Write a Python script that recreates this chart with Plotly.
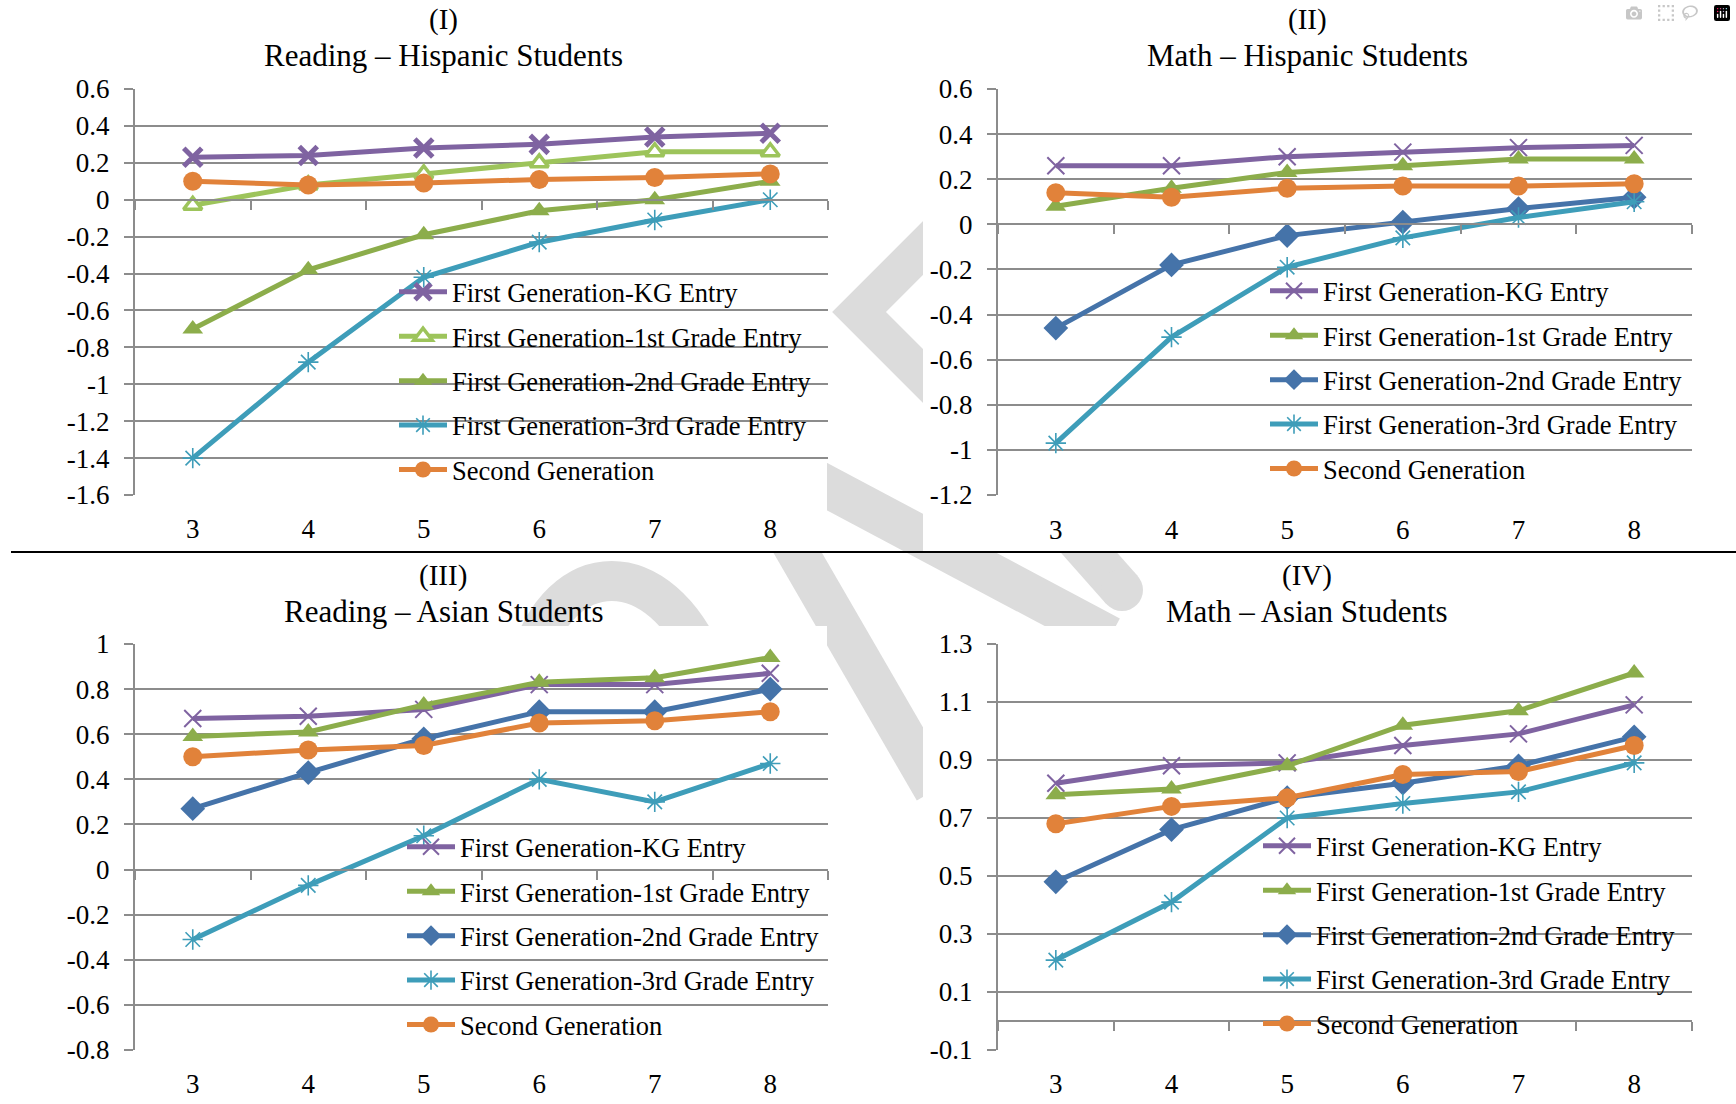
import plotly.graph_objects as go

# ---------------- data ----------------
grades = [3, 4, 5, 6, 7, 8]
grade_labels = ["3", "4", "5", "6", "7", "8"]
series_names = [
    "First Generation-KG Entry",
    "First Generation-1st Grade Entry",
    "First Generation-2nd Grade Entry",
    "First Generation-3rd Grade Entry",
    "Second Generation",
]

# (I) Reading - Hispanic
r_hisp_kg = [0.23, 0.24, 0.28, 0.30, 0.34, 0.36]
r_hisp_g1 = [-0.03, 0.08, 0.14, 0.20, 0.26, 0.26]
r_hisp_g2 = [-0.70, -0.38, -0.19, -0.06, 0.00, 0.10]
r_hisp_g3 = [-1.40, -0.88, -0.42, -0.23, -0.11, 0.00]
r_hisp_sg = [0.10, 0.08, 0.09, 0.11, 0.12, 0.14]

# (II) Math - Hispanic
m_hisp_kg = [0.26, 0.26, 0.30, 0.32, 0.34, 0.35]
m_hisp_g1 = [0.08, 0.16, 0.23, 0.26, 0.29, 0.29]
m_hisp_g2 = [-0.46, -0.18, -0.05, 0.01, 0.07, 0.12]
m_hisp_g3 = [-0.97, -0.50, -0.19, -0.06, 0.03, 0.10]
m_hisp_sg = [0.14, 0.12, 0.16, 0.17, 0.17, 0.18]

# (III) Reading - Asian
r_asian_kg = [0.67, 0.68, 0.71, 0.82, 0.82, 0.87]
r_asian_g1 = [0.59, 0.61, 0.73, 0.83, 0.85, 0.94]
r_asian_g2 = [0.27, 0.43, 0.58, 0.70, 0.70, 0.80]
r_asian_g3 = [-0.31, -0.07, 0.15, 0.40, 0.30, 0.47]
r_asian_sg = [0.50, 0.53, 0.55, 0.65, 0.66, 0.70]

# (IV) Math - Asian
m_asian_kg = [0.82, 0.88, 0.89, 0.95, 0.99, 1.09]
m_asian_g1 = [0.78, 0.80, 0.88, 1.02, 1.07, 1.20]
m_asian_g2 = [0.48, 0.66, 0.77, 0.82, 0.88, 0.98]
m_asian_g3 = [0.21, 0.41, 0.70, 0.75, 0.79, 0.89]
m_asian_sg = [0.68, 0.74, 0.77, 0.85, 0.86, 0.95]

# y tick labels
yticks_1 = ["-1.6", "-1.4", "-1.2", "-1", "-0.8", "-0.6", "-0.4", "-0.2", "0", "0.2", "0.4", "0.6"]
yticks_2 = ["-1.2", "-1", "-0.8", "-0.6", "-0.4", "-0.2", "0", "0.2", "0.4", "0.6"]
yticks_3 = ["-0.8", "-0.6", "-0.4", "-0.2", "0", "0.2", "0.4", "0.6", "0.8", "1"]
yticks_4 = ["-0.1", "0.1", "0.3", "0.5", "0.7", "0.9", "1.1", "1.3"]

panel_numbers = ["(I)", "(II)", "(III)", "(IV)"]
panel_titles = [
    "Reading \u2013 Hispanic Students",
    "Math \u2013 Hispanic Students",
    "Reading \u2013 Asian Students",
    "Math \u2013 Asian Students",
]

# ---------------- styling ----------------
W, H = 1736, 1104
FONT = "Liberation Serif"
GRID = "#8c8c8c"
PURPLE = "#7F63A1"
GREEN_LIGHT = "#9DC45B"
GREEN = "#8CAD4B"
BLUE = "#4573A9"
TEAL = "#3E9DB9"
ORANGE = "#E1823A"
WM = "#dcdcdc"


def px(x):
    return x / W


def py(y):
    return 1 - y / H


st_kg_bold = dict(color=PURPLE, symbol="x-thin", size=18, mfill=PURPLE, mline=PURPLE, mlw=5)
st_kg = dict(color=PURPLE, symbol="x-thin", size=17, mfill=PURPLE, mline=PURPLE, mlw=2)
st_g1_open = dict(color=GREEN_LIGHT, symbol="triangle-up", size=16, mfill="white", mline=GREEN_LIGHT, mlw=3.5)
st_g1 = dict(color=GREEN, symbol="triangle-up", size=18, mfill=GREEN, mline=GREEN, mlw=0)
st_g2_tri = dict(color=GREEN, symbol="triangle-up", size=18, mfill=GREEN, mline=GREEN, mlw=0)
st_g2 = dict(color=BLUE, symbol="diamond", size=19, mfill=BLUE, mline=BLUE, mlw=0)
st_g3 = dict(color=TEAL, symbol="asterisk-open", size=17, mfill=TEAL, mline=TEAL, mlw=1.6)
st_sg = dict(color=ORANGE, symbol="circle", size=19, mfill=ORANGE, mline=ORANGE, mlw=0)

panels = [
    dict(series=[r_hisp_kg, r_hisp_g1, r_hisp_g2, r_hisp_g3, r_hisp_sg],
         styles=[st_kg_bold, st_g1_open, st_g2_tri, st_g3, st_sg],
         yticks=yticks_1, xpx=(135, 828), ypx=(89, 495),
         legend_text=(452, 294), title_x=443, title_y=(20, 55)),
    dict(series=[m_hisp_kg, m_hisp_g1, m_hisp_g2, m_hisp_g3, m_hisp_sg],
         styles=[st_kg, st_g1, st_g2, st_g3, st_sg],
         yticks=yticks_2, xpx=(998, 1692), ypx=(89, 495),
         legend_text=(1323, 293), title_x=1307, title_y=(20, 55)),
    dict(series=[r_asian_kg, r_asian_g1, r_asian_g2, r_asian_g3, r_asian_sg],
         styles=[st_kg, st_g1, st_g2, st_g3, st_sg],
         yticks=yticks_3, xpx=(135, 828), ypx=(644, 1050),
         legend_text=(460, 849), title_x=443, title_y=(575, 611)),
    dict(series=[m_asian_kg, m_asian_g1, m_asian_g2, m_asian_g3, m_asian_sg],
         styles=[st_kg, st_g1, st_g2, st_g3, st_sg],
         yticks=yticks_4, xpx=(998, 1692), ypx=(644, 1050),
         legend_text=(1316, 848), title_x=1307, title_y=(575, 611)),
]

fig = go.Figure()
layout = dict(
    width=W, height=H, margin=dict(l=0, r=0, t=0, b=0, pad=0, autoexpand=False),
    paper_bgcolor="white", plot_bgcolor="rgba(0,0,0,0)",
    font=dict(family=FONT, color="black"),
    showlegend=True,
    annotations=[], shapes=[],
)

ITEMW = 48
LABEL_GAP = 19  # px between plot bottom and x tick labels
cat_range = [-0.5, len(grade_labels) - 0.5]

for i, p in enumerate(panels):
    n = i + 1
    xa = "x" if n == 1 else f"x{n}"
    ya = "y" if n == 1 else f"y{n}"
    leg = "legend" if n == 1 else f"legend{n}"

    tickvals = [float(t) for t in p["yticks"]]
    ymin, ymax = tickvals[0], tickvals[-1]
    xdom = [px(p["xpx"][0]), px(p["xpx"][1])]
    ydom = [py(p["ypx"][1]), py(p["ypx"][0])]

    for name, vals, st in zip(series_names, p["series"], p["styles"]):
        fig.add_trace(go.Scatter(
            x=grade_labels, y=vals, name=name, mode="lines+markers",
            xaxis=xa, yaxis=ya, legend=leg, legendgroup=f"{leg}_{name}",
            line=dict(color=st["color"], width=5),
            marker=dict(symbol=st["symbol"], size=st["size"], color=st["mfill"],
                        line=dict(color=st["mline"], width=st["mlw"])),
            hoverinfo="skip",
        ))

    axis_font = dict(family=FONT, size=27, color="black")
    # category axis crossing at y = 0 (Excel style), labels pushed to the bottom
    zero_pos = ydom[0] + (0 - ymin) / (ymax - ymin) * (ydom[1] - ydom[0])
    zero_px = (1 - zero_pos) * H
    standoff = int(round(p["ypx"][1] - zero_px + LABEL_GAP - 9))
    layout["xaxis" if n == 1 else f"xaxis{n}"] = dict(
        domain=xdom, anchor="free", position=zero_pos, type="category",
        categoryorder="array", categoryarray=grade_labels, range=cat_range,
        tickson="boundaries", ticks="outside", ticklen=9, tickwidth=2, tickcolor=GRID,
        showline=True, linecolor=GRID, linewidth=2,
        showgrid=False, zeroline=False, ticklabelstandoff=standoff,
        tickfont=axis_font, fixedrange=True, automargin=False,
    )
    layout["yaxis" if n == 1 else f"yaxis{n}"] = dict(
        domain=ydom, anchor=xa, range=[ymin, ymax], tickmode="array",
        tickvals=tickvals, ticktext=p["yticks"], showgrid=True, gridcolor=GRID,
        gridwidth=2, zeroline=True, zerolinecolor=GRID, zerolinewidth=2,
        showline=True, linecolor=GRID, linewidth=2,
        ticks="outside", ticklen=9, tickwidth=2, tickcolor=GRID,
        ticklabelstandoff=9, tickfont=axis_font, fixedrange=True, automargin=False,
    )

    tx, ty = p["legend_text"]
    layout[leg] = dict(
        x=px(tx - ITEMW - 10), y=py(ty - 26), xanchor="left", yanchor="top",
        bgcolor="rgba(0,0,0,0)", borderwidth=0, itemwidth=ITEMW,
        tracegroupgap=7, traceorder="grouped",
        font=dict(family=FONT, size=26.5, color="black"),
    )

    layout["annotations"].append(dict(
        text=panel_numbers[i], x=px(p["title_x"]), y=py(p["title_y"][0]),
        xref="paper", yref="paper", xanchor="center", yanchor="middle",
        showarrow=False, font=dict(family=FONT, size=29, color="black")))
    layout["annotations"].append(dict(
        text=panel_titles[i], x=px(p["title_x"]), y=py(p["title_y"][1]),
        xref="paper", yref="paper", xanchor="center", yanchor="middle",
        showarrow=False, font=dict(family=FONT, size=31, color="black")))


# ---------------- watermark (background decoration) ----------------
def pth(s):
    # convert a pixel path "M x,y L x,y ..." into paper coordinates
    out = []
    for tok in s.split():
        if "," in tok:
            a, b = tok.split(",")
            out.append(f"{px(float(a)):.5f},{py(float(b)):.5f}")
        else:
            out.append(tok)
    return " ".join(out)


wm_paths = [
    ("M 950,221 L 859,312 L 950,403", 38),
    ("M 760,451 L 1110,637", 42),
    ("M 1045,503 L 1122,590", 42),
    ("M 770,505 L 935,790", 42),
    ("M 528,665 C 560,553 660,553 706,665", 40),
]
for s, w in wm_paths:
    layout["shapes"].append(dict(type="path", path=pth(s), xref="paper", yref="paper",
                                 line=dict(color=WM, width=w), layer="below"))
layout["shapes"].append(dict(type="circle", xref="paper", yref="paper",
                             x0=px(1101), x1=px(1143), y0=py(611), y1=py(569),
                             fillcolor=WM, line=dict(width=0), layer="below"))
# white chart areas hiding the watermark
for (x0, x1, y0, y1) in [(0, 827, 0, 552), (923, 1736, 0, 552),
                         (0, 827, 626, 1104), (923, 1736, 626, 1104)]:
    layout["shapes"].append(dict(type="rect", xref="paper", yref="paper",
                                 x0=px(x0), x1=px(x1), y0=py(y1), y1=py(y0),
                                 fillcolor="white", line=dict(width=0), layer="below"))
# separator rule between the rows
layout["shapes"].append(dict(type="line", xref="paper", yref="paper",
                             x0=px(11), x1=1, y0=py(552), y1=py(552),
                             line=dict(color="black", width=2), layer="above"))

fig.update_layout(**layout)
fig.write_html("out.html", post_script="document.body.style.margin='0';")
